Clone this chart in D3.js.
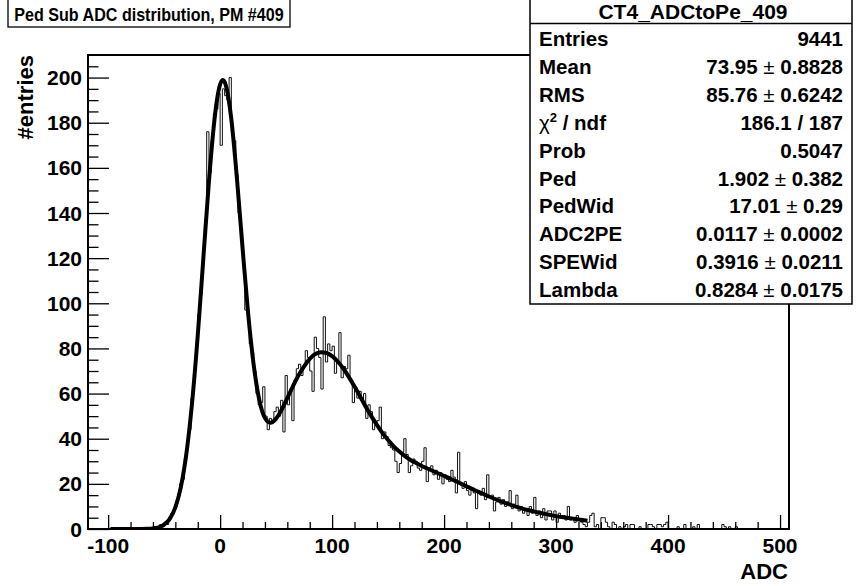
<!DOCTYPE html>
<html><head><meta charset="utf-8">
<script src="https://cdn.jsdelivr.net/npm/d3@7"></script>
<style>
body{margin:0;background:#fff}
svg{display:block}
text{font-family:"Liberation Sans",Arial,Helvetica,sans-serif;font-weight:bold;fill:#000}
</style>
</head><body>
<svg id="c" width="856" height="586"></svg>
<script>
// ---------------- data ----------------
const chartTitle = "Ped Sub ADC distribution, PM #409";
const xAxisTitle = "ADC";
const yAxisTitle = "#entries";
const xDomain = [-118, 508];
const yDomain = [0, 210];
const binStart = -118;
const binWidth = 2;
// bin contents, rows of 10 bins (20 ADC each), first row starts at -118
const counts = [
  0,0,0,0,0,0,0,0,0,0,            // -118
  0,0,0,0,0,0,0,0,0,0,            // -98
  0,0,0,0,0,0,0,0,0,1,            // -78
  0,1,2,1,3,2,5,7,8,10,           // -58
  15,20,22,31,39,44,58,65,82,95,  // -38
  104,118,136,176,158,172,184,186,193,170, // -18
  195,192,190,200,176,172,157,140,133,117, // 2
  97,96,82,78,70,60,55,56,63,50,  // 22
  44,49,47,52,54,50,57,43,68,55,  // 42
  62,48,66,71,73,68,72,79,76,70,  // 62
  61,85,80,76,62,94,74,82,79,81,  // 82
  69,74,87,67,72,71,77,66,56,63,  // 102
  58,61,57,60,49,55,52,44,46,48,  // 122
  54,40,43,41,37,36,35,30,25,29,  // 142
  34,40,33,25,28,31,30,27,26,30,  // 162
  36,21,27,28,24,26,22,25,20,24,  // 182
  22,21,26,23,16,34,20,18,21,17,  // 202
  15,18,16,9,17,15,18,13,24,14,   // 222
  15,8,12,14,11,13,10,12,17,9,    // 242
  11,15,8,10,7,9,6,10,7,14,       // 262
  6,8,5,9,4,8,8,4,8,3,            // 282
  7,5,6,4,10,4,5,3,6,4,           // 302
  3,2,1,3,6,7,1,2,0,5,            // 322
  5,3,1,0,3,2,0,1,0,1,            // 342
  2,0,2,2,0,0,1,0,0,0,            // 362
  2,2,1,0,2,2,1,2,3,0,            // 382
  0,0,0,1,0,0,2,0,0,0,            // 402
  1,0,2,0,0,0,0,0,0,0,            // 422
  0,0,0,2,1,0,1,0,0,1,            // 442
  0,0,0,0,0,0,0,0,0,0,            // 462
  0,0,0,0,0,0,0,0,0,0,            // 482
  0,0,0                           // 502
];
// fitted curve
const fitX = [-98,-90,-80,-70,-65,-60,-55,-50,-45,-40,-35,-30,-25,-20,-15,-10,-5,-2.5,0,2.5,5,7.5,10,15,20,25,30,35,40,45,50,55,60,65,70,75,80,85,90,95,100,105,110,115,120,125,130,135,140,145,150,155,160,165,170,175,180,185,190,195,200,205,210,215,220,225,230,235,240,245,250,255,260,265,270,275,280,285,290,295,300,305,310,315,320,325,328];
const fitY = [0,0,0,0.03,0.09,0.27,0.75,1.93,4.47,9.55,18.8,33.9,56.2,85.7,119.9,154.0,181.6,191.1,197.0,198.9,196.7,190.7,181.5,155.3,124.6,95.5,72.5,57.1,49.2,47.1,48.9,52.9,58.0,63.2,68.1,72.1,75.4,77.5,78.3,78.0,76.6,74.2,71.1,67.3,63.1,58.7,54.2,50.0,46.1,42.5,39.4,36.6,34.3,32.3,30.6,29.2,27.9,26.8,25.7,24.6,23.5,22.4,21.3,20.1,18.9,17.8,16.6,15.5,14.4,13.4,12.4,11.5,10.6,9.8,9.05,8.4,7.8,7.2,6.7,6.2,5.7,5.3,4.95,4.6,4.25,3.9,3.7];
const xMajorTicks = [-100,0,100,200,300,400,500];
const yMajorTicks = [0,20,40,60,80,100,120,140,160,180,200];
const statsTitle = "CT4_ADCtoPe_409";
const statsNames = ["Entries","Mean","RMS","χ2 / ndf","Prob","Ped","PedWid","ADC2PE","SPEWid","Lambda"];
const statsValues = ["9441","73.95 ± 0.8828","85.76 ± 0.6242","186.1 / 187","0.5047","1.902 ± 0.382","17.01 ± 0.29","0.0117 ± 0.0002","0.3916 ± 0.0211","0.8284 ± 0.0175"];

// ---------------- drawing ----------------
const svg = d3.select("#c");
const L = 88, R = 789, T = 55, B = 529;
const x = d3.scaleLinear().domain(xDomain).range([L, R]);
const y = d3.scaleLinear().domain(yDomain).range([B, T]);

svg.append("defs").append("clipPath").attr("id","clip")
  .append("rect").attr("x",L).attr("y",T).attr("width",R-L).attr("height",B-T);

// histogram outline
const pts = counts.map((c,i)=>[binStart+i*binWidth, c]);
pts.push([binStart+counts.length*binWidth, counts[counts.length-1]]);
const histLine = d3.line().x(d=>x(d[0])).y(d=>y(d[1])).curve(d3.curveStepAfter);
svg.append("path").attr("clip-path","url(#clip)")
  .attr("d", histLine(pts)).attr("fill","none").attr("stroke","#111").attr("stroke-width",1);

// fit
const fitLine = d3.line().x((d,i)=>x(fitX[i])).y(d=>y(d)).curve(d3.curveMonotoneX);
svg.append("path").attr("clip-path","url(#clip)")
  .attr("d", fitLine(fitY)).attr("fill","none").attr("stroke","#000").attr("stroke-width",4).attr("stroke-linejoin","round");

// axes (ROOT style: ticks inside)
const xAxis = d3.axisTop(x).tickValues(xMajorTicks).tickSize(14).tickFormat("");
const xMinor = d3.axisTop(x).tickValues(d3.range(-100,501,20).filter(v=>v%100!==0)).tickSize(7).tickFormat("");
const gx = svg.append("g").attr("transform",`translate(0,${B})`).call(xAxis);
gx.select(".domain").remove();
const gxm = svg.append("g").attr("transform",`translate(0,${B})`).call(xMinor);
gxm.select(".domain").remove();
const yAxis = d3.axisRight(y).tickValues(yMajorTicks).tickSize(21).tickFormat("");
const yMinor = d3.axisRight(y).tickValues(d3.range(0,206,5).filter(v=>v%20!==0)).tickSize(10.5).tickFormat("");
const gy = svg.append("g").attr("transform",`translate(${L},0)`).call(yAxis);
gy.select(".domain").remove();
const gym = svg.append("g").attr("transform",`translate(${L},0)`).call(yMinor);
gym.select(".domain").remove();
svg.selectAll(".tick line").attr("stroke","#000").attr("stroke-width",1.3);

// frame
svg.append("rect").attr("x",L).attr("y",T).attr("width",R-L).attr("height",B-T)
  .attr("fill","none").attr("stroke","#000").attr("stroke-width",2);

// tick labels
svg.selectAll(".xl").data(xMajorTicks).enter().append("text")
  .attr("x",d=>x(d)).attr("y",553).attr("text-anchor","middle").attr("font-size",21).text(d=>d);
svg.selectAll(".yl").data(yMajorTicks).enter().append("text")
  .attr("x",82).attr("y",d=>y(d)+7.5).attr("text-anchor","end").attr("font-size",21).text(d=>d);

// axis titles
svg.append("text").attr("x",788).attr("y",579).attr("text-anchor","end").attr("font-size",22).text(xAxisTitle);
svg.append("text").attr("transform","translate(33,55) rotate(-90)").attr("text-anchor","end").attr("font-size",22).text(yAxisTitle);

// title box
svg.append("rect").attr("x",8).attr("y",-2).attr("width",282).attr("height",29).attr("fill","#fff").attr("stroke","#000").attr("stroke-width",1.3);
svg.append("text").attr("transform","translate(149,20.5) scale(0.87,1)").attr("text-anchor","middle").attr("font-size",18.5).text(chartTitle);

// stats box
const sx0 = 530, sx1 = 852, sy1 = 304;
svg.append("rect").attr("x",sx0).attr("y",-2).attr("width",sx1-sx0).attr("height",sy1+2).attr("fill","#fff").attr("stroke","#000").attr("stroke-width",1.5);
svg.append("line").attr("x1",sx0).attr("x2",sx1).attr("y1",23.5).attr("y2",23.5).attr("stroke","#000").attr("stroke-width",1.3);
svg.append("text").attr("x",(sx0+sx1)/2+2).attr("y",18.5).attr("text-anchor","middle").attr("font-size",21).text(statsTitle);
const rowY = i => 39.3 + i*27.86 + 7;
statsNames.forEach((n,i)=>{
  const t = svg.append("text").attr("x",539).attr("y",rowY(i)).attr("font-size",20.5);
  if (n.startsWith("χ2")) {
    t.append("tspan").attr("font-weight","normal").text("χ");
    t.append("tspan").attr("font-size",13).attr("dy",-8).text("2");
    t.append("tspan").attr("dy",8).text(n.slice(2));
  } else t.text(n);
});
statsValues.forEach((v,i)=>{
  const t = svg.append("text").attr("x",843).attr("y",rowY(i)).attr("text-anchor","end").attr("font-size",20.5);
  const parts = v.split(" ± ");
  if (parts.length===2) {
    t.append("tspan").text(parts[0]+" ");
    t.append("tspan").attr("font-weight","normal").text("±");
    t.append("tspan").text(" "+parts[1]);
  } else t.text(v);
});
</script>
</body></html>
